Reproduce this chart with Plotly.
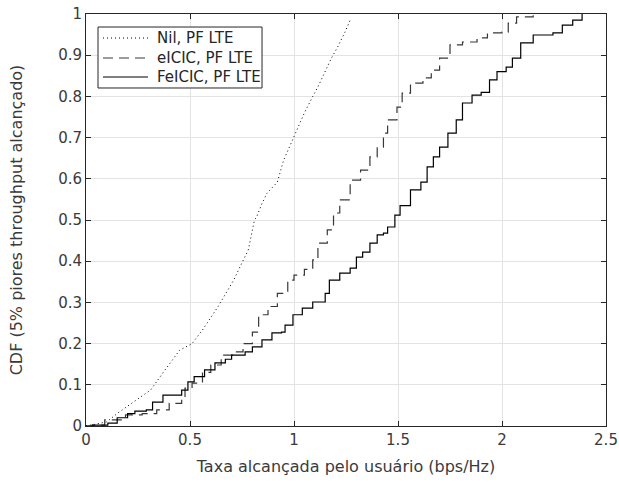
import plotly.graph_objects as go

# Nil, PF LTE (dotted)
nil_x = [0.0, 0.10, 0.154, 0.31, 0.38, 0.45, 0.51, 0.56, 0.635, 0.67, 0.71, 0.74, 0.78, 0.81, 0.82, 0.846,
         0.87, 0.92, 0.95, 1.01, 1.05, 1.09, 1.115, 1.18, 1.21, 1.245, 1.27]
nil_y = [0.0, 0.01, 0.032, 0.087, 0.136, 0.184, 0.20, 0.233, 0.29, 0.32, 0.354, 0.386, 0.427, 0.50, 0.507, 0.54,
         0.565, 0.592, 0.645, 0.714, 0.76, 0.80, 0.823, 0.893, 0.92, 0.956, 0.985]

# eICIC, PF LTE (dashed)
eicic_x = [0.0, 0.03, 0.09, 0.19, 0.27, 0.34, 0.40, 0.46, 0.476, 0.51, 0.56, 0.60, 0.65, 0.71, 0.755, 0.80, 0.83,
           0.875, 0.92, 0.97, 1.0, 1.05, 1.09, 1.115, 1.16, 1.19, 1.22, 1.27, 1.32, 1.365, 1.40, 1.43, 1.45,
           1.495, 1.52, 1.56, 1.62, 1.66, 1.70, 1.75, 1.81, 1.88, 1.93, 2.0, 2.03, 2.07, 2.15]
eicic_y = [0.0, 0.002, 0.015, 0.027, 0.03, 0.039, 0.055, 0.07, 0.092, 0.104, 0.13, 0.148, 0.172, 0.18, 0.20, 0.228,
           0.27, 0.29, 0.322, 0.354, 0.366, 0.38, 0.403, 0.444, 0.476, 0.517, 0.549, 0.597, 0.621, 0.653, 0.677,
           0.711, 0.743, 0.774, 0.808, 0.832, 0.845, 0.864, 0.893, 0.925, 0.932, 0.942, 0.954, 0.956, 0.978,
           0.993, 1.0]

# FeICIC, PF LTE (solid)
feicic_x = [0.0, 0.03, 0.105, 0.15, 0.20, 0.235, 0.29, 0.32, 0.37, 0.43, 0.46, 0.49, 0.52, 0.57, 0.62, 0.67,
            0.70, 0.765, 0.80, 0.846, 0.894, 0.94, 0.957, 0.995, 1.04, 1.09, 1.15, 1.17, 1.22, 1.27, 1.30, 1.33,
            1.365, 1.40, 1.43, 1.45, 1.485, 1.51, 1.56, 1.61, 1.64, 1.67, 1.70, 1.74, 1.78, 1.81, 1.856, 1.90,
            1.94, 1.976, 2.02, 2.05, 2.09, 2.15, 2.245, 2.29, 2.34, 2.385]
feicic_y = [0.0, 0.002, 0.007, 0.02, 0.03, 0.036, 0.039, 0.058, 0.075, 0.075, 0.087, 0.107, 0.12, 0.136, 0.153,
            0.162, 0.172, 0.18, 0.192, 0.209, 0.226, 0.228, 0.245, 0.27, 0.286, 0.301, 0.322, 0.354, 0.371, 0.383,
            0.41, 0.422, 0.444, 0.464, 0.468, 0.483, 0.512, 0.535, 0.573, 0.592, 0.629, 0.653, 0.677, 0.711,
            0.743, 0.784, 0.803, 0.81, 0.84, 0.86, 0.871, 0.893, 0.93, 0.949, 0.954, 0.973, 0.985, 1.0]

series_names = ["Nil, PF LTE", "eICIC, PF LTE", "FeICIC, PF LTE"]

x_ticks = [0, 0.5, 1, 1.5, 2, 2.5]
x_tick_labels = ["0", "0.5", "1", "1.5", "2", "2.5"]
y_ticks = [0, 0.1, 0.2, 0.3, 0.4, 0.5, 0.6, 0.7, 0.8, 0.9, 1]
y_tick_labels = ["0", "0.1", "0.2", "0.3", "0.4", "0.5", "0.6", "0.7", "0.8", "0.9", "1"]

TXT = "#3a3a3a"
FONT = "DejaVu Sans"
line_styles = [
    dict(color="black", width=1, dash="1px,3px"),
    dict(color="#383838", width=1.2, dash="10px,6px", shape="hv"),
    dict(color="black", width=1.2, shape="hv"),
]

fig = go.Figure()
for xs, ys, name, ls in zip([nil_x, eicic_x, feicic_x], [nil_y, eicic_y, feicic_y], series_names, line_styles):
    fig.add_trace(go.Scatter(x=xs, y=ys, mode="lines", name=name, line=ls, showlegend=False))

# legend drawn as a boxed key (MATLAB style)
fig.add_shape(type="rect", xref="paper", yref="paper", x0=0.0231, x1=0.3385, y0=0.8204, y1=0.9684,
              line=dict(color="#262626", width=1), fillcolor="white", layer="above")
row_y = [0.9417, 0.8932, 0.8471]
for name, ls, ry in zip(series_names, line_styles, row_y):
    fig.add_shape(type="line", xref="paper", yref="paper", x0=0.0327, x1=0.1192, y0=ry, y1=ry,
                  line=dict(color=ls["color"], width=ls["width"], dash=ls.get("dash", "solid")),
                  layer="above")
    fig.add_annotation(x=0.1327, y=ry, xref="paper", yref="paper", text=name, showarrow=False,
                       xanchor="left", yanchor="middle",
                       font=dict(family=FONT, size=15, color="#262626"))

axis_common = dict(showline=True, linecolor="#262626", linewidth=1, mirror="ticks",
                   ticks="inside", ticklen=5, tickcolor="#262626",
                   showgrid=True, gridcolor="#e3e3e3", gridwidth=1, zeroline=False,
                   automargin=False, ticklabeloverflow="allow",
                   tickfont=dict(family=FONT, size=15, color=TXT))

fig.update_layout(
    width=619, height=486,
    paper_bgcolor="white", plot_bgcolor="white",
    margin=dict(l=86, r=13, t=14, b=60),
    font=dict(family=FONT, size=15, color=TXT),
    showlegend=False,
)
fig.update_xaxes(range=[0, 2.5], tickvals=x_ticks, ticktext=x_tick_labels,
                 title=dict(text="Taxa alcançada pelo usuário (bps/Hz)", standoff=12,
                            font=dict(family=FONT, size=16, color=TXT)),
                 **axis_common)
fig.update_yaxes(range=[0, 1], tickvals=y_ticks, ticktext=y_tick_labels,
                 title=dict(text="CDF (5% piores throughput alcançado)", standoff=31,
                            font=dict(family=FONT, size=16, color=TXT)),
                 **axis_common)

fig.write_html("out.html", config={"displayModeBar": False},
               post_script="document.body.style.margin='0';document.body.style.overflow='hidden';")
